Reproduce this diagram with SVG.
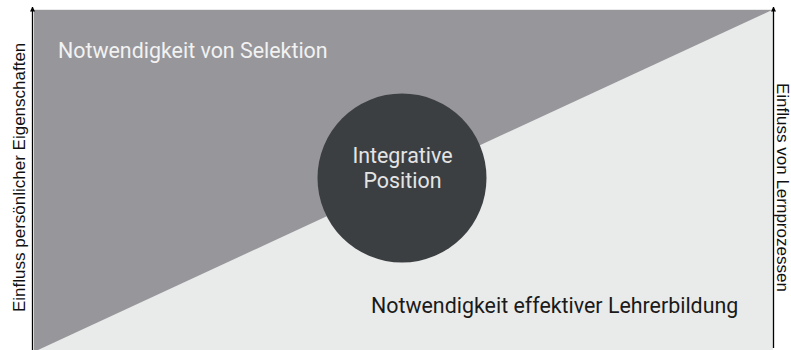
<svg xmlns="http://www.w3.org/2000/svg" width="791" height="350" viewBox="0 0 791 350">
  <style>
    .axis { stroke: #000; stroke-width: 1.3; fill: none; }
    .axis-label { font-family: "Liberation Sans", Arial, sans-serif; font-size: 17px; fill: #111; }
    .region-label { font-family: Roboto, "Noto Sans", sans-serif; font-size: 21.4px; }
    .center-label { font-family: Roboto, "Noto Sans", sans-serif; font-size: 21.4px; fill: #e4e4e4; text-anchor: middle; }
  </style>
  <defs>
    <marker id="arrow" viewBox="0 0 10 10" refX="9" refY="5" markerWidth="5" markerHeight="6" markerUnits="userSpaceOnUse" orient="auto">
      <path d="M0,0 L10,5 L0,10 Z" fill="#000"/>
    </marker>
  </defs>
  <rect width="791" height="350" fill="#fff"/>

  <!-- lower region: teacher education -->
  <g id="region-lehrerbildung">
    <rect x="34" y="9" width="739" height="341" fill="#e9eaea"/>
    <text class="region-label" x="371" y="313" fill="#1a1a1a">Notwendigkeit effektiver Lehrerbildung</text>
  </g>

  <!-- upper region: selection -->
  <g id="region-selektion">
    <polygon points="34,10 772,10 38,350 34,350" fill="#97979b"/>
    <text class="region-label" x="58" y="58" fill="#f2f2f2">Notwendigkeit von Selektion</text>
  </g>

  <!-- central position -->
  <g id="integrative-position">
    <circle cx="402" cy="178" r="84.5" fill="#3c3f42"/>
    <text class="center-label" x="402.5" y="163">Integrative</text>
    <text class="center-label" x="402.5" y="188">Position</text>
  </g>

  <!-- axes -->
  <g id="axes">
    <line class="axis" x1="32.5" y1="350" x2="32.5" y2="7" marker-end="url(#arrow)"/>
    <line class="axis" x1="773.5" y1="348" x2="773.5" y2="7" marker-end="url(#arrow)"/>
  </g>

  <g id="axis-labels">
    <text class="axis-label" transform="translate(25,312) rotate(-90)">Einfluss persönlicher Eigenschaften</text>
    <text class="axis-label" transform="translate(777,83) rotate(90)" font-size="16.6">Einfluss von Lernprozessen</text>
  </g>
</svg>
